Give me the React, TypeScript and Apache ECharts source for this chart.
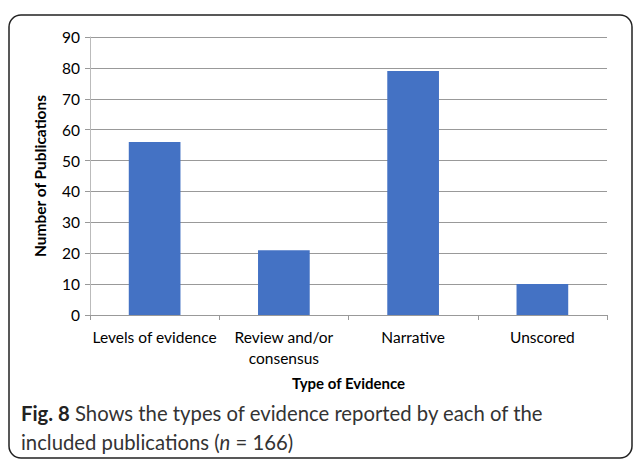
import React, { useEffect, useRef } from "react";
import * as echarts from "echarts";

const categories = ["Levels of evidence", "Review and/or\nconsensus", "Narrative", "Unscored"];
const values = [56, 21, 79, 10];
const yTicks = { min: 0, max: 90, interval: 10 };

export default function App() {
  const ref = useRef<HTMLDivElement>(null);
  useEffect(() => {
    document.body.style.margin = "0";
    const chart = echarts.init(ref.current!, undefined, { renderer: "svg" });
    const font = "Lato, sans-serif";
    chart.setOption({
      animation: false,
      grid: { left: 90, right: 30, top: 37, bottom: 150 },
      xAxis: {
        type: "category",
        data: categories,
        name: "Type of Evidence",
        nameLocation: "middle",
        nameGap: 60,
        nameTextStyle: { fontFamily: font, fontWeight: "bold", fontSize: 15, color: "#000" },
        axisLine: { lineStyle: { color: "#999", width: 1 } },
        axisTick: { show: true, length: 5, lineStyle: { color: "#999" } },
        axisLabel: { fontFamily: font, fontSize: 15.5, color: "#000", margin: 11, lineHeight: 21, interval: 0 },
      },
      yAxis: {
        type: "value",
        min: yTicks.min,
        max: yTicks.max,
        interval: yTicks.interval,
        name: "Number of Publications",
        nameLocation: "middle",
        nameGap: 42,
        nameTextStyle: { fontFamily: font, fontWeight: "bold", fontSize: 15.5, color: "#000" },
        axisLine: { show: true, lineStyle: { color: "#bbb", width: 1 } },
        axisTick: { show: true, length: 5, lineStyle: { color: "#999" } },
        axisLabel: { fontFamily: font, fontSize: 15.5, color: "#000", margin: 10 },
        splitLine: { lineStyle: { color: "#999", width: 1 } },
      },
      series: [
        {
          type: "bar",
          data: values,
          barWidth: "40%",
          itemStyle: { color: "#4472C4" },
        },
      ],
      graphic: [
        {
          type: "rect",
          shape: { x: 9, y: 15, width: 623, height: 443, r: 12 },
          style: { fill: "none", stroke: "#222", lineWidth: 1.5 },
          silent: true,
        },
        {
          type: "text",
          left: 21,
          top: 398,
          style: {
            text: "{b|Fig. 8} Shows the types of evidence reported by each of the\nincluded publications ({i|n} = 166)",
            fontFamily: font,
            fontSize: 20.3,
            lineHeight: 29,
            fill: "#333",
            rich: {
              b: { fontWeight: "bold", fontSize: 20.3, fontFamily: font, fill: "#222" },
              i: { fontStyle: "italic", fontSize: 20.3, fontFamily: font, fill: "#333" },
            },
          },
        },
      ],
    });
    return () => chart.dispose();
  }, []);
  return <div ref={ref} style={{ width: 637, height: 465 }} />;
}
